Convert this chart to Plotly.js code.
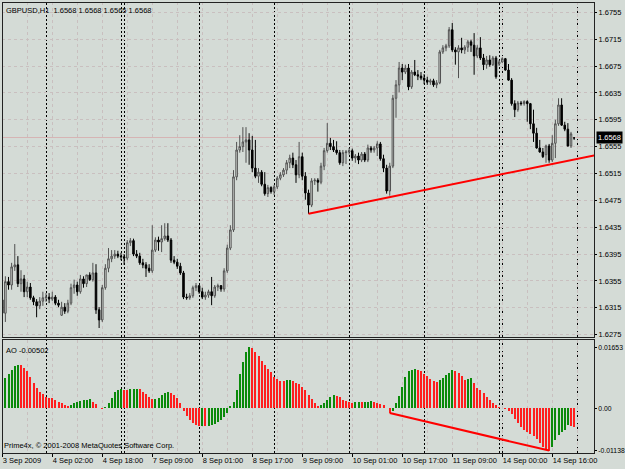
<!DOCTYPE html>
<html>
<head>
<meta charset="utf-8">
<script src="https://cdn.plot.ly/plotly-3.0.1.min.js"></script>
<style>
html,body{margin:0;padding:0;background:#d4dbd6;}
#chart{width:625px;height:469px;}
#chart .shapelayer path{shape-rendering:crispEdges;}
</style>
</head>
<body>
<div id="chart"></div>
<script>
// ---- Data (GBPUSD H1, bar index 0 = 3 Sep 2009 10:00) ----
const opens = [1.6327,1.6307,1.6354,1.6349,1.6376,1.6379,1.6351,1.6358,1.6339,1.6346,
1.6330,1.6324,1.6318,1.6325,1.6330,1.6331,1.6328,1.6331,1.6322,1.6304,
1.6316,1.6310,1.6322,1.6345,1.6349,1.6339,1.6358,1.6351,1.6364,1.6357,
1.6367,1.6312,1.6297,1.6345,1.6374,1.6388,1.6392,1.6395,1.6392,1.6391,
1.6389,1.6412,1.6415,1.6395,1.6392,1.6382,1.6379,1.6374,1.6370,1.6401,
1.6416,1.6413,1.6418,1.6422,1.6416,1.6386,1.6383,1.6377,1.6367,1.6331,
1.6330,1.6333,1.6345,1.6348,1.6339,1.6331,1.6334,1.6339,1.6333,1.6346,
1.6348,1.6343,1.6370,1.6404,1.6431,1.6510,1.6550,1.6555,1.6562,1.6565,
1.6550,1.6523,1.6511,1.6517,1.6499,1.6485,1.6494,1.6488,1.6495,1.6508,
1.6513,1.6520,1.6531,1.6538,1.6528,1.6513,1.6540,1.6511,1.6486,1.6468,
1.6504,1.6505,1.6502,1.6526,1.6549,1.6560,1.6555,1.6550,1.6546,1.6531,
1.6546,1.6547,1.6549,1.6538,1.6541,1.6535,1.6544,1.6535,1.6553,1.6550,
1.6553,1.6559,1.6537,1.6523,1.6489,1.6526,1.6627,1.6647,1.6672,1.6666,
1.6672,1.6644,1.6666,1.6662,1.6660,1.6657,1.6654,1.6651,1.6653,1.6647,
1.6650,1.6696,1.6702,1.6705,1.6729,1.6699,1.6696,1.6702,1.6699,1.6703,
1.6711,1.6706,1.6690,1.6702,1.6687,1.6677,1.6684,1.6677,1.6687,1.6678,
1.6681,1.6686,1.6669,1.6654,1.6619,1.6610,1.6620,1.6619,1.6622,1.6619,
1.6589,1.6575,1.6553,1.6547,1.6543,1.6556,1.6535,1.6560,1.6589,1.6617,
1.6587,1.6581,1.6556,1.6568];
const highs = [1.6334,1.6362,1.6361,1.6382,1.6410,1.6392,1.6371,1.6364,1.6354,1.6352,
1.6333,1.6328,1.6331,1.6339,1.6337,1.6337,1.6339,1.6334,1.6327,1.6324,
1.6322,1.6327,1.6351,1.6357,1.6354,1.6364,1.6362,1.6364,1.6368,1.6382,
1.6380,1.6316,1.6349,1.6380,1.6404,1.6401,1.6401,1.6400,1.6397,1.6395,
1.6416,1.6419,1.6418,1.6401,1.6397,1.6388,1.6383,1.6380,1.6438,1.6420,
1.6421,1.6438,1.6441,1.6441,1.6419,1.6392,1.6388,1.6382,1.6370,1.6336,
1.6337,1.6348,1.6352,1.6349,1.6345,1.6339,1.6342,1.6361,1.6349,1.6351,
1.6349,1.6374,1.6409,1.6438,1.6520,1.6562,1.6572,1.6584,1.6584,1.6575,
1.6571,1.6565,1.6523,1.6520,1.6517,1.6498,1.6496,1.6498,1.6511,1.6517,
1.6523,1.6535,1.6543,1.6546,1.6535,1.6562,1.6546,1.6517,1.6491,1.6508,
1.6508,1.6508,1.6531,1.6553,1.6590,1.6568,1.6565,1.6563,1.6550,1.6550,
1.6550,1.6553,1.6552,1.6544,1.6546,1.6547,1.6547,1.6558,1.6556,1.6556,
1.6563,1.6562,1.6543,1.6528,1.6531,1.6632,1.6654,1.6681,1.6678,1.6677,
1.6678,1.6669,1.6684,1.6669,1.6666,1.6663,1.6659,1.6656,1.6656,1.6654,
1.6699,1.6706,1.6708,1.6733,1.6739,1.6703,1.6706,1.6717,1.6706,1.6714,
1.6714,1.6724,1.6706,1.6718,1.6693,1.6690,1.6691,1.6690,1.6690,1.6684,
1.6688,1.6687,1.6678,1.6657,1.6624,1.6623,1.6623,1.6624,1.6624,1.6620,
1.6610,1.6583,1.6565,1.6553,1.6558,1.6559,1.6572,1.6595,1.6627,1.6627,
1.6592,1.6590,1.6577,1.6568];
const lows = [1.6297,1.6294,1.6342,1.6342,1.6370,1.6346,1.6339,1.6331,1.6331,1.6327,
1.6319,1.6301,1.6313,1.6318,1.6324,1.6322,1.6325,1.6319,1.6316,1.6303,
1.6306,1.6307,1.6319,1.6336,1.6333,1.6336,1.6345,1.6346,1.6355,1.6354,
1.6306,1.6285,1.6294,1.6342,1.6368,1.6383,1.6388,1.6389,1.6386,1.6379,
1.6386,1.6407,1.6392,1.6389,1.6379,1.6374,1.6361,1.6367,1.6367,1.6398,
1.6400,1.6398,1.6415,1.6413,1.6382,1.6380,1.6373,1.6364,1.6328,1.6327,
1.6327,1.6330,1.6340,1.6336,1.6328,1.6327,1.6330,1.6319,1.6330,1.6340,
1.6339,1.6339,1.6367,1.6401,1.6428,1.6505,1.6546,1.6547,1.6531,1.6528,
1.6517,1.6508,1.6501,1.6496,1.6482,1.6480,1.6485,1.6483,1.6492,1.6505,
1.6510,1.6514,1.6523,1.6523,1.6501,1.6508,1.6505,1.6476,1.6455,1.6465,
1.6498,1.6488,1.6499,1.6520,1.6546,1.6550,1.6547,1.6543,1.6528,1.6526,
1.6529,1.6543,1.6534,1.6531,1.6529,1.6532,1.6532,1.6532,1.6546,1.6546,
1.6541,1.6534,1.6517,1.6485,1.6482,1.6523,1.6598,1.6636,1.6654,1.6663,
1.6639,1.6641,1.6660,1.6654,1.6654,1.6648,1.6647,1.6647,1.6644,1.6642,
1.6648,1.6693,1.6697,1.6702,1.6696,1.6677,1.6657,1.6694,1.6693,1.6696,
1.6696,1.6662,1.6687,1.6684,1.6669,1.6671,1.6674,1.6675,1.6656,1.6675,
1.6680,1.6668,1.6653,1.6616,1.6599,1.6607,1.6616,1.6616,1.6592,1.6581,
1.6562,1.6552,1.6546,1.6538,1.6531,1.6531,1.6532,1.6538,1.6586,1.6586,
1.6578,1.6555,1.6553,1.6565];
const closes = [1.6307,1.6354,1.6349,1.6376,1.6379,1.6351,1.6358,1.6339,1.6346,1.6330,
1.6324,1.6318,1.6325,1.6330,1.6331,1.6328,1.6331,1.6322,1.6319,1.6316,
1.6310,1.6322,1.6345,1.6349,1.6339,1.6358,1.6351,1.6364,1.6357,1.6367,
1.6312,1.6297,1.6345,1.6374,1.6388,1.6392,1.6395,1.6392,1.6391,1.6389,
1.6412,1.6415,1.6395,1.6392,1.6382,1.6379,1.6374,1.6370,1.6401,1.6416,
1.6413,1.6418,1.6422,1.6416,1.6386,1.6383,1.6377,1.6367,1.6331,1.6330,
1.6333,1.6345,1.6348,1.6339,1.6331,1.6334,1.6339,1.6333,1.6346,1.6348,
1.6343,1.6370,1.6404,1.6431,1.6510,1.6550,1.6555,1.6562,1.6565,1.6550,
1.6523,1.6511,1.6517,1.6499,1.6485,1.6494,1.6488,1.6495,1.6508,1.6513,
1.6520,1.6531,1.6538,1.6528,1.6513,1.6540,1.6511,1.6486,1.6468,1.6504,
1.6505,1.6502,1.6526,1.6549,1.6560,1.6555,1.6550,1.6546,1.6531,1.6546,
1.6547,1.6549,1.6538,1.6541,1.6535,1.6544,1.6535,1.6553,1.6550,1.6553,
1.6559,1.6537,1.6523,1.6489,1.6526,1.6627,1.6647,1.6672,1.6666,1.6672,
1.6644,1.6666,1.6662,1.6660,1.6657,1.6654,1.6651,1.6653,1.6647,1.6650,
1.6696,1.6702,1.6705,1.6729,1.6699,1.6696,1.6702,1.6699,1.6703,1.6711,
1.6706,1.6690,1.6702,1.6687,1.6677,1.6684,1.6677,1.6687,1.6659,1.6681,
1.6686,1.6669,1.6654,1.6619,1.6610,1.6620,1.6619,1.6622,1.6619,1.6589,
1.6575,1.6553,1.6547,1.6540,1.6556,1.6535,1.6560,1.6589,1.6617,1.6587,
1.6581,1.6556,1.6574,1.6568];
// Awesome Oscillator values
const ao = [0.00721,0.00811,0.00919,0.01036,0.01144,0.01171,0.01162,0.01099,0.01009,0.00856,
0.00676,0.00541,0.00432,0.00378,0.00306,0.00288,0.00270,0.00216,0.00180,0.00135,
0.00090,0.00072,0.00090,0.00135,0.00180,0.00207,0.00225,0.00234,0.00243,0.00180,
0.00108,0.00018,-0.00018,0.00045,0.00135,0.00288,0.00432,0.00505,0.00514,0.00505,
0.00495,0.00514,0.00523,0.00532,0.00514,0.00450,0.00378,0.00315,0.00252,0.00261,
0.00288,0.00360,0.00423,0.00450,0.00414,0.00360,0.00270,0.00135,-0.00072,-0.00198,
-0.00315,-0.00396,-0.00450,-0.00477,-0.00468,-0.00486,-0.00477,-0.00459,-0.00432,-0.00378,
-0.00315,-0.00234,-0.00126,0.00072,0.00180,0.00495,0.00919,0.01261,0.01532,0.01653,
0.01622,0.01514,0.01405,0.01279,0.01171,0.01063,0.00973,0.00856,0.00793,0.00748,
0.00730,0.00766,0.00775,0.00739,0.00694,0.00649,0.00586,0.00486,0.00360,0.00243,
0.00144,0.00063,0.00090,0.00153,0.00225,0.00315,0.00360,0.00342,0.00297,0.00234,
0.00189,0.00162,0.00153,0.00171,0.00180,0.00162,0.00171,0.00180,0.00189,0.00180,
0.00153,0.00126,0.00081,0.00018,-0.00126,-0.00072,0.00135,0.00342,0.00586,0.00856,
0.01000,0.01045,0.01072,0.01045,0.01000,0.00937,0.00865,0.00793,0.00748,0.00721,
0.00757,0.00829,0.00892,0.00964,0.01027,0.01009,0.00955,0.00865,0.00775,0.00802,
0.00820,0.00676,0.00541,0.00486,0.00405,0.00315,0.00225,0.00144,0.00081,0.00045,
0.00018,-0.00018,-0.00072,-0.00162,-0.00288,-0.00405,-0.00505,-0.00586,-0.00649,-0.00694,
-0.00739,-0.00829,-0.00946,-0.01036,-0.01117,-0.01138,-0.01036,-0.00865,-0.00730,-0.00649,
-0.00577,-0.00459,-0.00477,-0.00502];
// time labels (bar index -> label)
const labelBars = [0,16,32,48,64,80,96,112,128,144,160,176];
const labelText = ['3 Sep 2009','4 Sep 02:00','4 Sep 18:00','7 Sep 09:00','8 Sep 01:00','8 Sep 17:00',
  '9 Sep 09:00','10 Sep 01:00','10 Sep 17:00','11 Sep 09:00','14 Sep 00:00','14 Sep 16:00'];
// day separators (bar index of first bar of each day)
const daySeparators = [14,38,39,63,87,111,135,159,160,184];
// trend lines
const priceTrendX = [98, 189.4];
const priceTrendY = [1.6455, 1.6542];
const aoTrendX = [124, 175];
const aoTrendY = [-0.00126, -0.01138];
const bidPrice = 1.6568;
const headerText = 'GBPUSD,H1\u00a0\u00a01.6568 1.6568 1.6565 1.6568';
const aoLabel = 'AO -0.00502';
const aoTickVals = [0.01653, 0, -0.01138];
const aoTickText = ['0.01653', '0.00', '-0.01138'];

// ---- Styling ----
const BG = '#d4dbd6';
const GRID = '#c9bfbf';
const GREEN = '#0a8a0a';
const RED = '#ff1e1e';
const FONT = 'Liberation Sans, Arial, sans-serif';
const FS = 7.5;

const bars = opens.map((_, i) => i);
const aoColors = [];
let up = true;
ao.forEach((v, i) => {
  if (i > 0) { if (v > ao[i-1]) up = true; else if (v < ao[i-1]) up = false; }
  aoColors.push(up ? GREEN : RED);
});

const MAIN_DOM = [0.2572, 1];
const AO_DOM = [0, 0.2506];

const traces = [
  {
    type: 'candlestick', x: bars, open: opens, high: highs, low: lows, close: closes,
    xaxis: 'x', yaxis: 'y', whiskerwidth: 0, hoverinfo: 'skip',
    increasing: {line: {color: '#505050', width: 1}, fillcolor: '#e2e7e2'},
    decreasing: {line: {color: '#000000', width: 1}, fillcolor: '#000000'}
  },
  {
    type: 'scatter', mode: 'lines', x: priceTrendX, y: priceTrendY, xaxis: 'x', yaxis: 'y',
    line: {color: '#ff0000', width: 2}, hoverinfo: 'skip'
  },
  {
    type: 'bar', x: bars, y: ao, xaxis: 'x', yaxis: 'y2', width: 0.64,
    marker: {color: aoColors, line: {width: 0}}, hoverinfo: 'skip'
  },
  {
    type: 'scatter', mode: 'lines', x: aoTrendX, y: aoTrendY, xaxis: 'x', yaxis: 'y2',
    line: {color: '#ff0000', width: 2}, hoverinfo: 'skip'
  }
];

const shapes = [];
daySeparators.forEach(s => shapes.push({
  type: 'line', xref: 'x', yref: 'paper', x0: s, x1: s, y0: 0, y1: 1,
  line: {color: '#000', width: 1, dash: '2px,2px'}, layer: 'below'
}));
shapes.push({type: 'line', xref: 'paper', yref: 'y', x0: 0, x1: 1, y0: bidPrice, y1: bidPrice,
  line: {color: '#d6b4b4', width: 1}, layer: 'below'});
shapes.push({type: 'rect', xref: 'paper', yref: 'paper', x0: 0, x1: 1, y0: MAIN_DOM[0], y1: MAIN_DOM[1],
  line: {color: '#222', width: 1}, fillcolor: 'rgba(0,0,0,0)'});
shapes.push({type: 'rect', xref: 'paper', yref: 'paper', x0: 0, x1: 1, y0: AO_DOM[0], y1: AO_DOM[1],
  line: {color: '#222', width: 1}, fillcolor: 'rgba(0,0,0,0)'});

const annotations = [
  {xref: 'paper', yref: 'paper', x: 0, y: 1, xanchor: 'left', yanchor: 'top', xshift: 2, yshift: -2,
   text: headerText, showarrow: false, font: {family: FONT, size: FS, color: '#000'}},
  {xref: 'paper', yref: 'paper', x: 0, y: AO_DOM[1], xanchor: 'left', yanchor: 'top', xshift: 2, yshift: -4,
   text: aoLabel, showarrow: false, font: {family: FONT, size: FS, color: '#000'}},
  {xref: 'paper', yref: 'paper', x: 0, y: 0, xanchor: 'left', yanchor: 'bottom', xshift: 0, yshift: 1,
   text: 'Prime4x, © 2001-2008 MetaQuotes Software Corp.', showarrow: false,
   font: {family: FONT, size: FS, color: '#000'}},
  {xref: 'paper', yref: 'y', x: 1, y: bidPrice, xanchor: 'left', yanchor: 'middle', xshift: 2,
   text: bidPrice.toFixed(4), showarrow: false, bgcolor: '#000', borderpad: 1,
   font: {family: FONT, size: FS, color: '#fff'}}
];

const layout = {
  width: 625, height: 469,
  margin: {l: 2, r: 31, t: 2, b: 16, pad: 0},
  paper_bgcolor: BG, plot_bgcolor: BG,
  showlegend: false,
  font: {family: FONT, size: FS, color: '#000'},
  xaxis: {
    range: [-0.08, 189.36], anchor: 'y2', type: 'linear',
    tickmode: 'array', tickvals: labelBars, ticktext: labelText, tickangle: 0,
    ticks: 'outside', ticklen: 3, tickcolor: '#000', ticklabelposition: 'outside right',
    ticklabelstandoff: 0,
    showgrid: true, gridcolor: GRID, griddash: '3px,3px', gridwidth: 1,
    minor: {tickmode: 'linear', tick0: 0, dtick: 8, showgrid: true, gridcolor: GRID, griddash: '3px,3px', ticks: ''},
    zeroline: false, showline: false, rangeslider: {visible: false}, fixedrange: true,
    tickfont: {family: FONT, size: FS, color: '#000'}
  },
  yaxis: {
    domain: MAIN_DOM, range: [1.62716, 1.67703], side: 'right', anchor: 'x',
    tickmode: 'linear', tick0: 1.6275, dtick: 0.004, tickformat: '.4f',
    ticks: 'outside', ticklen: 2, tickcolor: '#000', ticklabelstandoff: 0,
    showgrid: true, gridcolor: GRID, griddash: '3px,3px', zeroline: false, fixedrange: true,
    tickfont: {family: FONT, size: FS, color: '#000'}
  },
  yaxis2: {
    domain: AO_DOM, range: [-0.01203, 0.01846], side: 'right', anchor: 'x',
    tickmode: 'array', tickvals: aoTickVals, ticktext: aoTickText,
    ticks: 'outside', ticklen: 2, tickcolor: '#000', ticklabelstandoff: 0,
    showgrid: false, zeroline: false, fixedrange: true,
    tickfont: {family: FONT, size: 6.8, color: '#000'}
  },
  bargap: 0,
  shapes: shapes,
  annotations: annotations
};

Plotly.newPlot('chart', traces, layout, {staticPlot: true, displayModeBar: false});
</script>
</body>
</html>
